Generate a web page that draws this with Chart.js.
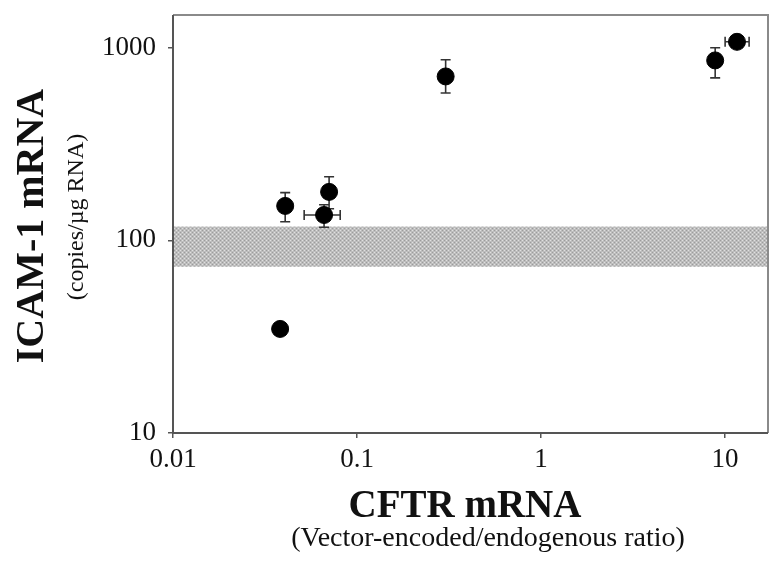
<!DOCTYPE html>
<html>
<head>
<meta charset="utf-8">
<script src="https://cdn.jsdelivr.net/npm/chart.js@4/dist/chart.umd.min.js"></script>
<style>
	html, body { margin: 0; padding: 0; background: #fff; }
	#wrap { width: 772px; height: 561px; position: relative; }
</style>
</head>
<body>
<div id="wrap"><canvas id="chart"></canvas></div>
<script>
// CFTR mRNA ratio (x) vs ICAM-1 mRNA copies (y)
const cftrRatio = [0.0382, 0.0407, 0.0662, 0.0705, 0.303, 8.83, 11.6];
const icamCopies = [34.7, 151, 135.5, 178.6, 710, 860, 1074];
const icamLow = [null, 125, 117, 146, 583, 698, null];
const icamHigh = [null, 177, 153, 214, 867, 1000, null];
const cftrLow = [null, null, 0.0516, null, null, null, 10];
const cftrHigh = [null, null, 0.081, null, null, null, 13.5];

// shaded normal range
const bandLow = 73;
const bandHigh = 118;

const xTickValues = [0.01, 0.1, 1, 10];
const xTickLabels = [`0.01`, `0.1`, `1`, `10`];
const yTickValues = [10, 100, 1000];
const yTickLabels = [`10`, `100`, `1000`];

const serif = `"Liberation Serif", "DejaVu Serif", serif`;

function makeDots(ctx) {
	const c = document.createElement(`canvas`);
	c.width = 4;
	c.height = 4;
	const p = c.getContext(`2d`);
	p.fillStyle = `#bdbdbd`;
	p.fillRect(0, 0, 4, 4);
	p.fillStyle = `#9c9c9c`;
	p.fillRect(0, 0, 1, 1);
	p.fillRect(2, 2, 1, 1);
	p.fillStyle = `#e0e0e0`;
	p.fillRect(2, 0, 1, 1);
	p.fillRect(0, 2, 1, 1);
	return ctx.createPattern(c, `repeat`);
};

const bandPlugin = {
	id: `band`,
	beforeDatasetsDraw(chart) {
		const { ctx, chartArea, scales } = chart;
		const top = scales.y.getPixelForValue(bandHigh);
		const bot = scales.y.getPixelForValue(bandLow);
		ctx.save();
		ctx.fillStyle = makeDots(ctx);
		ctx.fillRect(chartArea.left, top, chartArea.right - chartArea.left, bot - top);
		ctx.restore();
	},
};

const errorBarPlugin = {
	id: `errorBars`,
	beforeDatasetsDraw(chart) {
		const { ctx, scales } = chart;
		const cap = 5;
		ctx.save();
		ctx.strokeStyle = `#333`;
		ctx.lineWidth = 1.6;
		for (let i = 0; i < cftrRatio.length; i++) {
			const px = scales.x.getPixelForValue(cftrRatio[i]);
			const py = scales.y.getPixelForValue(icamCopies[i]);
			if (icamLow[i] != null) {
				const y1 = scales.y.getPixelForValue(icamHigh[i]);
				const y2 = scales.y.getPixelForValue(icamLow[i]);
				ctx.beginPath();
				ctx.moveTo(px, y1); ctx.lineTo(px, y2);
				ctx.moveTo(px - cap, y1); ctx.lineTo(px + cap, y1);
				ctx.moveTo(px - cap, y2); ctx.lineTo(px + cap, y2);
				ctx.stroke();
			};
			if (cftrLow[i] != null) {
				const x1 = scales.x.getPixelForValue(cftrLow[i]);
				const x2 = scales.x.getPixelForValue(cftrHigh[i]);
				ctx.beginPath();
				ctx.moveTo(x1, py); ctx.lineTo(x2, py);
				ctx.moveTo(x1, py - cap); ctx.lineTo(x1, py + cap);
				ctx.moveTo(x2, py - cap); ctx.lineTo(x2, py + cap);
				ctx.stroke();
			};
		};
		ctx.restore();
	},
};

const framePlugin = {
	id: `frame`,
	afterDraw(chart) {
		const { ctx, chartArea } = chart;
		const { left, right, top, bottom } = chartArea;
		ctx.save();
		ctx.strokeStyle = `#8a8a8a`;
		ctx.lineWidth = 2;
		ctx.beginPath();
		ctx.moveTo(left, top); ctx.lineTo(right, top); ctx.lineTo(right, bottom);
		ctx.stroke();
		ctx.strokeStyle = `#555`;
		ctx.beginPath();
		ctx.moveTo(left, top); ctx.lineTo(left, bottom); ctx.lineTo(right, bottom);
		ctx.stroke();

		// axis titles
		ctx.fillStyle = `#111`;
		ctx.textAlign = `center`;
		ctx.textBaseline = `middle`;
		ctx.font = `bold 39px ${serif}`;
		ctx.fillText(`CFTR mRNA`, 465, 507);
		ctx.font = `28px ${serif}`;
		ctx.fillText(`(Vector-encoded/endogenous ratio)`, 488, 539);

		ctx.save();
		ctx.translate(33, 226);
		ctx.rotate(-Math.PI / 2);
		ctx.font = `bold 40px ${serif}`;
		ctx.fillText(`ICAM-1 mRNA`, 0, 0);
		ctx.restore();

		ctx.save();
		ctx.translate(77, 217);
		ctx.rotate(-Math.PI / 2);
		ctx.font = `24px ${serif}`;
		ctx.fillText(`(copies/\u00b5g RNA)`, 0, 0);
		ctx.restore();
		ctx.restore();
	},
};

const gridOpts = {
	display: true,
	drawOnChartArea: false,
	drawTicks: true,
	tickLength: 5,
	tickColor: `#555`,
	lineWidth: 1.5,
};

new Chart(document.getElementById(`chart`), {
	type: `scatter`,
	data: {
		datasets: [
			{
				label: `ICAM-1`,
				data: cftrRatio.map((x, i) => ({ x, y: icamCopies[i] })),
				backgroundColor: `#000`,
				borderColor: `#000`,
				pointRadius: 8.5,
				pointHoverRadius: 8.5,
			},
		],
	},
	options: {
		responsive: true,
		maintainAspectRatio: false,
		animation: false,
		layout: {
			autoPadding: false,
			padding: { left: 0, top: 15, right: 4, bottom: 0 },
		},
		plugins: {
			legend: { display: false },
			tooltip: { enabled: false },
		},
		scales: {
			x: {
				type: `logarithmic`,
				min: 0.01,
				max: 17.1,
				border: { display: false },
				grid: gridOpts,
				afterBuildTicks: (scale) => {
					scale.ticks = xTickValues.map((value) => ({ value }));
				},
				afterFit: (scale) => {
					scale.height = 128;
					scale.paddingLeft = 0;
					scale.paddingRight = 0;
				},
				ticks: {
					autoSkip: false,
					maxRotation: 0,
					padding: 6,
					color: `#111`,
					font: { family: serif, size: 27 },
					callback: (value) => xTickLabels[xTickValues.indexOf(value)] ?? ``,
				},
			},
			y: {
				type: `logarithmic`,
				min: 10,
				max: 1480,
				border: { display: false },
				grid: gridOpts,
				afterBuildTicks: (scale) => {
					scale.ticks = yTickValues.map((value) => ({ value }));
				},
				afterFit: (scale) => {
					scale.width = 173;
					scale.paddingTop = 0;
					scale.paddingBottom = 0;
				},
				ticks: {
					autoSkip: false,
					padding: 12,
					color: `#111`,
					font: { family: serif, size: 27 },
					callback: (value) => yTickLabels[yTickValues.indexOf(value)] ?? ``,
				},
			},
		},
	},
	plugins: [bandPlugin, errorBarPlugin, framePlugin],
});
</script>
</body>
</html>
